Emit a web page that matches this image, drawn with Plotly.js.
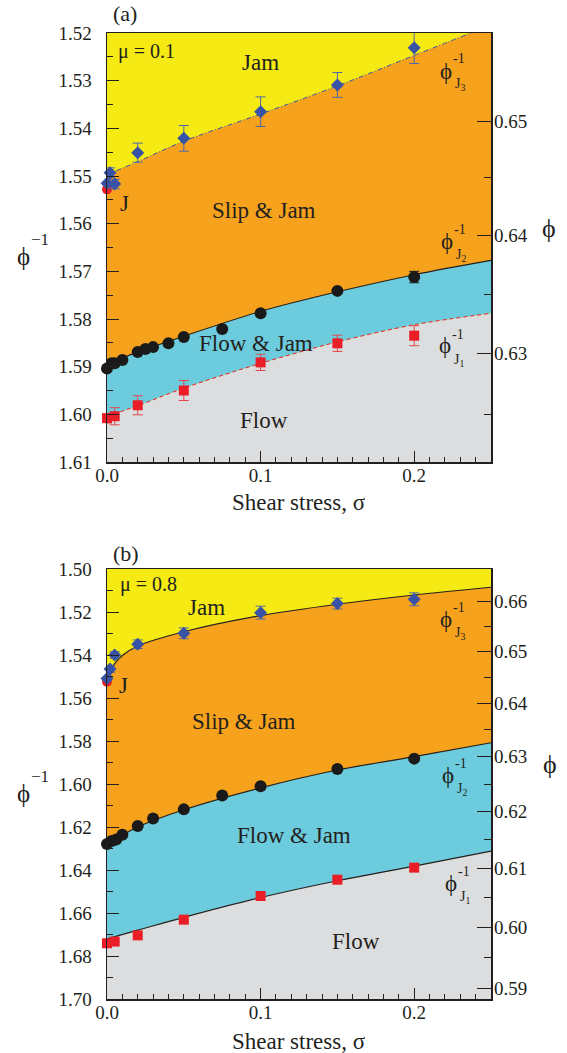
<!DOCTYPE html>
<html>
<head>
<meta charset="utf-8">
<script src="https://cdn.plot.ly/plotly-3.0.1.min.js"></script>
<style>
  html, body { margin: 0; padding: 0; background: #ffffff; }
  #chart { width: 567px; height: 1053px; }
</style>
</head>
<body>
<div id="chart"></div>
<script>
// ---------- Panel (a): mu = 0.1 ----------
const aRange = [1.61, 1.52];
// phase boundaries (fitted curves)
const aJ3CurveSigma = [0, 0.02, 0.05, 0.1, 0.15, 0.2, 0.25];
const aJ3Curve      = [1.5497, 1.5470, 1.5427, 1.5370, 1.5311, 1.5247, 1.5183];
const aJ2CurveSigma = [0, 0.01, 0.02, 0.05, 0.1, 0.15, 0.2, 0.25];
const aJ2Curve      = [1.5897, 1.5882, 1.5869, 1.5836, 1.5784, 1.5743, 1.5707, 1.5677];
const aJ1CurveSigma = [0, 0.02, 0.05, 0.1, 0.15, 0.2, 0.25];
const aJ1Curve      = [1.6004, 1.5982, 1.5945, 1.5893, 1.5848, 1.5812, 1.5788];
// simulation points
const aJ3Sigma = [0, 0.002, 0.005, 0.02, 0.05, 0.1, 0.15, 0.2];
const aJ3      = [1.5515, 1.5493, 1.5517, 1.5451, 1.5421, 1.5365, 1.5309, 1.5231];
const aJ3Err   = [0.0010, 0.0010, 0.0010, 0.0020, 0.0027, 0.0031, 0.0026, 0.0033];
const aJ2Sigma = [0, 0.003, 0.005, 0.01, 0.02, 0.025, 0.03, 0.04, 0.05, 0.075, 0.1, 0.15, 0.2];
const aJ2      = [1.5904, 1.5893, 1.5893, 1.5886, 1.5869, 1.5863, 1.5859, 1.5851, 1.5838, 1.5821, 1.5788, 1.5741, 1.5712];
const aJ2Err   = [0, 0, 0, 0, 0, 0, 0, 0, 0, 0, 0, 0, 0.0012];
const aJ1Sigma = [0, 0.005, 0.02, 0.05, 0.1, 0.15, 0.2];
const aJ1      = [1.6008, 1.6004, 1.5981, 1.5950, 1.5891, 1.5851, 1.5835];
const aJ1Err   = [0.0010, 0.0018, 0.0020, 0.0021, 0.0017, 0.0017, 0.0021];
const aJSigma  = [0];
const aJ       = [1.5528];
const aPhiMajor = [0.65, 0.64, 0.63];
const aPhiMinor = [0.645, 0.635, 0.625];

// ---------- Panel (b): mu = 0.8 ----------
const bRange = [1.70, 1.50];
const bJ3CurveSigma = [0, 0.005, 0.01, 0.02, 0.05, 0.1, 0.15, 0.2, 0.25];
const bJ3Curve      = [1.5500, 1.5440, 1.5402, 1.5358, 1.5292, 1.5217, 1.5164, 1.5121, 1.5085];
const bJ2CurveSigma = [0, 0.01, 0.02, 0.05, 0.1, 0.15, 0.2, 0.25];
const bJ2Curve      = [1.6285, 1.6238, 1.6200, 1.6120, 1.6018, 1.5935, 1.5873, 1.5808];
const bJ1CurveSigma = [0, 0.02, 0.05, 0.1, 0.15, 0.2, 0.25];
const bJ1Curve      = [1.6720, 1.6680, 1.6620, 1.6528, 1.6450, 1.6382, 1.6312];
const bJ3Sigma = [0, 0.002, 0.005, 0.02, 0.05, 0.1, 0.15, 0.2];
const bJ3      = [1.5509, 1.5465, 1.5400, 1.5350, 1.5299, 1.5203, 1.5161, 1.5141];
const bJ3Err   = [0.0012, 0.0015, 0.0015, 0.0020, 0.0025, 0.0030, 0.0025, 0.0030];
const bJ2Sigma = [0, 0.003, 0.006, 0.01, 0.02, 0.03, 0.05, 0.075, 0.1, 0.15, 0.2];
const bJ2      = [1.6279, 1.6265, 1.6258, 1.6236, 1.6195, 1.6160, 1.6118, 1.6054, 1.6010, 1.5930, 1.5882];
const bJ1Sigma = [0, 0.005, 0.02, 0.05, 0.1, 0.15, 0.2];
const bJ1      = [1.6741, 1.6733, 1.6704, 1.6631, 1.6521, 1.6445, 1.6389];
const bJSigma  = [0];
const bJ       = [1.5524];
const bPhiMajor = [0.66, 0.65, 0.64, 0.63, 0.62, 0.61, 0.60, 0.59];
const bPhiMinor = [0.655, 0.645, 0.635, 0.625, 0.615, 0.605, 0.595];

const sigmaSpan = [0, 0.25];

// ---------- styling ----------
const FONT = 'Liberation Serif, serif';
const INK = '#231f20';
const YELLOW = '#f5ea14';
const ORANGE = '#f7a21c';
const CYAN = '#6ccbdc';
const GREY = '#dcdddf';
const BLUE = '#3853a6';
const RED = '#e91e27';

// plot frame in pixels
const L = 107, R = 491, T = 33, B = 999;
const PW = R - L, PH = B - T;

function fills(xa, ya, range, j1s, j1, j2s, j2, j3s, j3, lines) {
  const base = {
    x: sigmaSpan, y: [range[0], range[0]], xaxis: xa, yaxis: ya,
    mode: 'lines', line: { width: 0 }, hoverinfo: 'skip', showlegend: false
  };
  const mk = (xs, ys, color, line) => ({
    x: xs, y: ys, xaxis: xa, yaxis: ya, mode: 'lines', fill: 'tonexty', fillcolor: color,
    line: Object.assign({ shape: 'spline', smoothing: 0.9 }, line), hoverinfo: 'skip', showlegend: false
  });
  return [
    base,
    mk(j1s, j1, GREY, lines[0]),
    mk(j2s, j2, CYAN, lines[1]),
    mk(j3s, j3, ORANGE, lines[2])
  ];
}

function points(xa, ya, xs, ys, errs, symbol, size, color, errColor) {
  const t = {
    x: xs, y: ys, xaxis: xa, yaxis: ya, type: 'scatter', mode: 'markers', cliponaxis: false,
    marker: { symbol: symbol, size: size, color: color, line: { width: 0 } },
    hoverinfo: 'x+y', showlegend: false
  };
  if (errs) {
    t.error_y = { type: 'data', array: errs, visible: true, color: errColor, thickness: 1, width: 5 };
  }
  return t;
}

const data = []
  .concat(fills('x', 'y', aRange, aJ1CurveSigma, aJ1Curve, aJ2CurveSigma, aJ2Curve, aJ3CurveSigma, aJ3Curve, [
    { color: RED, width: 1, dash: '4px,3px' },
    { color: INK, width: 1.1 },
    { color: BLUE, width: 1, dash: '5px,2px,1px,2px' }
  ]))
  .concat(fills('x2', 'y2', bRange, bJ1CurveSigma, bJ1Curve, bJ2CurveSigma, bJ2Curve, bJ3CurveSigma, bJ3Curve, [
    { color: INK, width: 1.2 },
    { color: INK, width: 1.2 },
    { color: INK, width: 1.2 }
  ]))
  .concat([
    points('x', 'y', aJSigma, aJ, null, 'circle', 10, RED),
    points('x', 'y', aJ3Sigma, aJ3, aJ3Err, 'diamond', 10, BLUE, '#4f67aa'),
    points('x', 'y', aJ2Sigma, aJ2, aJ2Err, 'circle', 12, '#1a1a1a', '#1a1a1a'),
    points('x', 'y', aJ1Sigma, aJ1, aJ1Err, 'square', 10, RED, '#e2474d'),
    points('x2', 'y2', bJSigma, bJ, null, 'circle', 10, RED),
    points('x2', 'y2', bJ3Sigma, bJ3, bJ3Err, 'diamond', 10, BLUE, '#4f67aa'),
    points('x2', 'y2', bJ2Sigma, bJ2, null, 'circle', 12, '#1a1a1a'),
    points('x2', 'y2', bJ1Sigma, bJ1, null, 'square', 10, RED),
    // right-hand phi axes
    { x: [], y: [], xaxis: 'x', yaxis: 'y3', type: 'scatter', showlegend: false, hoverinfo: 'skip' },
    { x: [], y: [], xaxis: 'x2', yaxis: 'y4', type: 'scatter', showlegend: false, hoverinfo: 'skip' }
  ]);

const tickFont = { family: FONT, size: 19, color: INK };

function xAxis(anchor) {
  return {
    domain: [0, 1], anchor: anchor, range: sigmaSpan,
    tickmode: 'linear', tick0: 0, dtick: 0.1, tickformat: '.1f',
    ticks: 'inside', ticklen: 11, tickwidth: 1, tickcolor: INK,
    minor: { tick0: 0, dtick: 0.01, ticks: 'inside', ticklen: 5, tickwidth: 1, tickcolor: INK, showgrid: false },
    showline: true, linecolor: INK, linewidth: 1.5, mirror: true,
    showgrid: false, zeroline: false, tickfont: tickFont, ticklabelstandoff: -4
  };
}

function yAxis(anchor, domain, range, dtick, minorDtick) {
  return {
    domain: domain, anchor: anchor, range: range,
    tickmode: 'linear', tick0: range[1], dtick: dtick, tickformat: '.2f',
    ticks: 'inside', ticklen: 12, tickwidth: 1, tickcolor: INK,
    minor: { tick0: range[1], dtick: minorDtick, ticks: 'inside', ticklen: 6, tickwidth: 1, tickcolor: INK, showgrid: false },
    showline: true, linecolor: INK, linewidth: 1.5, mirror: true,
    showgrid: false, zeroline: false, tickfont: tickFont, ticklabelstandoff: 10
  };
}

function phiAxis(anchorX, over, range, major, minor) {
  return {
    overlaying: over, side: 'right', anchor: anchorX, range: range,
    tickmode: 'array', tickvals: major.map(p => 1 / p), ticktext: major.map(p => p.toFixed(2)),
    ticks: 'inside', ticklen: 14, tickwidth: 1, tickcolor: INK,
    minor: { tickmode: 'array', tickvals: minor.map(p => 1 / p), ticks: 'inside', ticklen: 7, tickwidth: 1, tickcolor: INK, showgrid: false },
    showline: false, showgrid: false, zeroline: false, tickfont: tickFont, ticklabelstandoff: 2
  };
}

const domA = [(B - 462) / PH, 1];
const domB = [0, (B - 569) / PH];

// text placed by pixel position within the figure
function at(px, py) {
  return { xref: 'paper', yref: 'paper', x: (px - L) / PW, y: (B - py) / PH };
}
function label(text, px, py, size, extra) {
  return Object.assign({
    text: text, showarrow: false, xanchor: 'center', yanchor: 'middle',
    font: { family: FONT, size: size, color: INK }
  }, at(px, py), extra || {});
}
function phiJ(idx, px, py) {
  return [
    label('\u03d5', px, py, 23),
    label('-1', px + 13, py - 12, 14),
    label('J<sub>' + idx + '</sub>', px + 14, py + 14, 14)
  ];
}

const annotations = [
  // panel (a)
  label('(a)', 125, 13, 22),
  label('\u03bc = 0.1', 146, 51, 20),
  label('Jam', 260, 62, 23),
  label('J', 124, 204, 23),
  label('Slip &amp; Jam', 264, 211, 23),
  label('Flow &amp; Jam', 256, 343, 23),
  label('Flow', 264, 420, 23),
  label('\u03d5', 23, 256, 25),
  label('\u22121', 40, 239, 17),
  label('\u03d5', 549, 228, 26),
  label('Shear stress, \u03c3', 299, 503, 23)
].concat(phiJ(3, 446, 71), phiJ(2, 447, 241), phiJ(1, 445, 346)).concat([
  // panel (b)
  label('(b)', 126, 553, 22),
  label('\u03bc = 0.8', 148, 584, 20),
  label('Jam', 206, 607, 23),
  label('J', 123, 685, 23),
  label('Slip &amp; Jam', 244, 721, 23),
  label('Flow &amp; Jam', 294, 835, 23),
  label('Flow', 356, 941, 23),
  label('\u03d5', 23, 793, 25),
  label('\u22121', 40, 776, 17),
  label('\u03d5', 550, 764, 26),
  label('Shear stress, \u03c3', 299, 1041, 23)
]).concat(phiJ(3, 446, 619), phiJ(2, 448, 775), phiJ(1, 451, 883));

const layout = {
  width: 567, height: 1053,
  margin: { l: L, r: 567 - R, t: T, b: 1053 - B, pad: 0 },
  paper_bgcolor: '#ffffff', plot_bgcolor: YELLOW,
  showlegend: false,
  font: { family: FONT, color: INK },
  xaxis: xAxis('y'),
  yaxis: yAxis('x', domA, aRange, 0.01, 0.005),
  yaxis3: phiAxis('x', 'y', aRange, aPhiMajor, aPhiMinor),
  xaxis2: xAxis('y2'),
  yaxis2: yAxis('x2', domB, bRange, 0.02, 0.01),
  yaxis4: phiAxis('x2', 'y2', bRange, bPhiMajor, bPhiMinor),
  annotations: annotations
};

Plotly.newPlot('chart', data, layout, { staticPlot: true, displayModeBar: false });
</script>
</body>
</html>
